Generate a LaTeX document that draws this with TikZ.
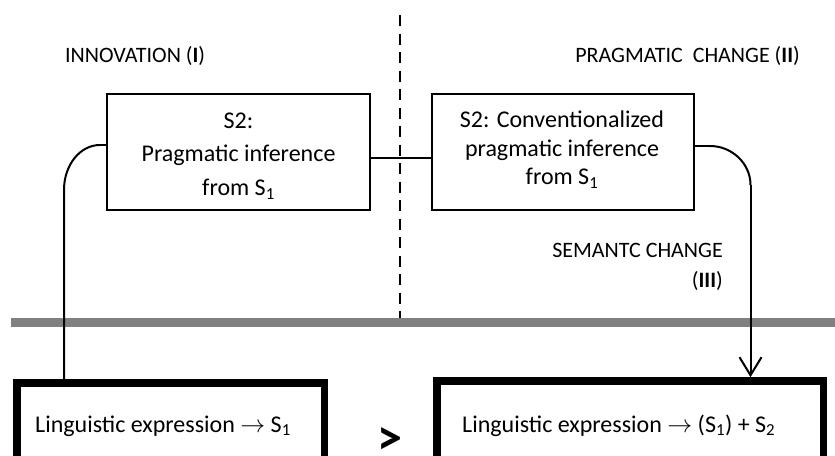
\documentclass[tikz,border=0pt]{standalone}
\usepackage{fontspec}
\setmainfont{Carlito}
\usetikzlibrary{arrows.meta}
\tikzset{
  thinbox/.style={draw, line width=2pt, minimum width=263pt, minimum height=116pt, inner sep=0pt},
  thickbox/.style={draw, line width=7.7pt, inner sep=0pt},
  conn/.style={line width=2pt},
  stub/.style={line width=2.8pt},
  lbl/.style={inner sep=0pt, font=\fontsize{22}{26}\selectfont},
  btxt/.style={inner sep=0pt, font=\fontsize{24}{28}\selectfont},
  boxtext/.style={inner sep=0pt, align=center},
}
\begin{document}
\begin{tikzpicture}[x=1pt,y=-1pt]
\useasboundingbox (0,0) rectangle (835,455);
\clip (0,0) rectangle (835,455);
% gray bar
\coordinate (gbl) at (11,322.5);
\coordinate (gbr) at (835,322.5);
\draw[line width=9pt, color=gray] (gbl) -- (gbr);
% dashed divider
\coordinate (dtop) at (400,15);
\coordinate (dbot) at (400,318);
\draw[line width=2.5pt, dash pattern=on 11pt off 7.5pt] (dtop) -- (dbot);
% top boxes
\node[thinbox] (b1) at (238.5,152) {};
\node[thinbox, minimum width=262pt] (b2) at (563,152) {};
\node[boxtext, anchor=north, font=\fontsize{24}{33.5}\selectfont] (b1t) at (238.5,112.5)
  {S2:\\Pragmatic inference\\from S\textsubscript{1}};
\node[boxtext, anchor=north, font=\fontsize{24}{28.5}\selectfont] (b2t) at (562,111)
  {S2: Conventionalized\\pragmatic inference\\from S\textsubscript{1}};
% bottom boxes
\node[thickbox, minimum width=307.5pt, minimum height=120pt] (lb) at (170.75,443) {};
\node[thickbox, minimum width=386.5pt, minimum height=120pt] (rb) at (630.25,441) {};
\node[btxt, anchor=base west] (lbt) at (35,432) {Linguistic expression $\rightarrow$ S\textsubscript{1}};
\node[btxt, anchor=base west] (rbt) at (462,432) {Linguistic expression $\rightarrow$ (S\textsubscript{1}) + S\textsubscript{2}};
\node[inner sep=0pt, font=\fontsize{50}{50}\bfseries\selectfont] (gt) at (390,441) {>};
% labels
\node[lbl, anchor=base west] (inn) at (65,62) {INNOVATION (\textbf{I})};
\node[lbl, anchor=base east] (prag) at (800,62) {PRAGMATIC\ \ CHANGE (\textbf{II})};
\node[lbl, anchor=base east] (sem) at (723,257) {SEMANTC CHANGE};
\node[lbl, anchor=base east] (semn) at (723,287) {(\textbf{III})};
% connectors
\draw[stub] ([yshift=-6pt]b1.east) -- ([yshift=-6pt]b2.west);
\coordinate (l1) at (100,145);
\coordinate (l2) at (64,190);
\draw[stub] ([yshift=7pt]b1.west) -- (l1);
\draw[conn] (l1) .. controls (80,145) and (64,165) .. (l2) -- (l2 |- lb.north);
\coordinate (r1) at (710,146);
\coordinate (r2) at (750.5,185);
\draw[stub] ([yshift=6pt]b2.east) -- (r1);
\draw[conn] (r1) .. controls (732,146) and (750.5,163.5) .. (r2);
\draw[conn, -{Straight Barb[length=18pt, width=22pt, line width=2pt]}] (r2) -- (r2 |- rb.north);
\end{tikzpicture}
\end{document}
